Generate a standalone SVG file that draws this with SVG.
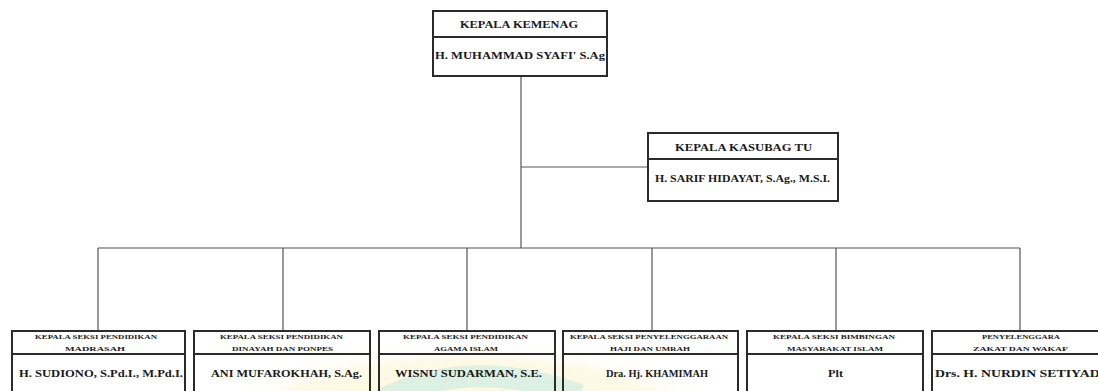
<svg xmlns="http://www.w3.org/2000/svg" width="1098" height="391" viewBox="0 0 1098 391">
<style>
.box{fill:none;stroke:#2b2b2b;stroke-width:2}
.div{stroke:#2b2b2b;stroke-width:2}
.con{fill:none;stroke:#555;stroke-width:1.2}
text{font-family:"Liberation Serif","Times New Roman",serif;font-weight:bold;fill:#1a1a1a;text-anchor:middle}
.t1{font-size:11px}
.t2{font-size:10px}
.st{font-size:6px}
.nm{font-size:11px}
</style>
<defs>
<radialGradient id="wm" cx="0.5" cy="0.5" r="0.5">
<stop offset="0" stop-color="#fff7cf" stop-opacity="0.9"/>
<stop offset="0.7" stop-color="#fdf6d6" stop-opacity="0.6"/>
<stop offset="1" stop-color="#ffffff" stop-opacity="0"/>
</radialGradient>
</defs>
<rect width="1098" height="391" fill="#fff"/>
<g id="watermark">
<ellipse cx="470" cy="410" rx="260" ry="70" fill="url(#wm)"/>
<path d="M 380 400 Q 470 355 580 395" fill="none" stroke="#cfeee4" stroke-width="22" opacity="0.7"/>
</g>
<g id="connectors">
<path class="con" d="M521 76 V248"/>
<path class="con" d="M521 167 H648"/>
<path class="con" d="M98 248 H1020"/>
<path class="con" d="M98 248 V331 M283 248 V331 M467 248 V331 M652 248 V331 M836 248 V331 M1020 248 V331"/>
</g>
<g id="kepala-kemenag">
<rect class="box" x="433" y="11" width="174" height="65"/>
<line class="div" x1="433" y1="37" x2="607" y2="37"/>
<text class="t1" x="519" y="28" textLength="118" lengthAdjust="spacingAndGlyphs">KEPALA KEMENAG</text>
<text class="t1" x="520" y="59" textLength="170" lengthAdjust="spacingAndGlyphs">H. MUHAMMAD SYAFI' S.Ag</text>
</g>
<g id="kepala-kasubag">
<rect class="box" x="648" y="133" width="190" height="68"/>
<line class="div" x1="648" y1="159" x2="838" y2="159"/>
<text class="t2" x="743.5" y="151" textLength="137" lengthAdjust="spacingAndGlyphs">KEPALA KASUBAG TU</text>
<text class="t2" x="742.5" y="182" textLength="175" lengthAdjust="spacingAndGlyphs">H. SARIF HIDAYAT, S.Ag., M.S.I.</text>
</g>
<g id="seksi-madrasah">
<rect class="box" x="12" y="331" width="173" height="80"/>
<line class="div" x1="12" y1="354" x2="185" y2="354"/>
<text class="st" x="96" y="338.5" textLength="122" lengthAdjust="spacingAndGlyphs">KEPALA SEKSI PENDIDIKAN</text>
<text class="st" x="95" y="350.5" textLength="60" lengthAdjust="spacingAndGlyphs">MADRASAH</text>
<text class="nm" x="101" y="377" textLength="164" lengthAdjust="spacingAndGlyphs">H. SUDIONO, S.Pd.I., M.Pd.I.</text>
</g>
<g id="seksi-diniyah">
<rect class="box" x="194" y="331" width="176" height="80"/>
<line class="div" x1="194" y1="354" x2="370" y2="354"/>
<text class="st" x="281.5" y="338.5" textLength="123" lengthAdjust="spacingAndGlyphs">KEPALA SEKSI PENDIDIKAN</text>
<text class="st" x="282.5" y="350.5" textLength="101" lengthAdjust="spacingAndGlyphs">DINAYAH DAN PONPES</text>
<text class="nm" x="286.5" y="377" textLength="151" lengthAdjust="spacingAndGlyphs">ANI MUFAROKHAH, S.Ag.</text>
</g>
<g id="seksi-pai">
<rect class="box" x="379" y="331" width="176" height="80"/>
<line class="div" x1="379" y1="354" x2="555" y2="354"/>
<text class="st" x="465.5" y="338.5" textLength="125" lengthAdjust="spacingAndGlyphs">KEPALA SEKSI PENDIDIKAN</text>
<text class="st" x="466" y="350.5" textLength="64" lengthAdjust="spacingAndGlyphs">AGAMA ISLAM</text>
<text class="nm" x="468.5" y="377" textLength="147" lengthAdjust="spacingAndGlyphs">WISNU SUDARMAN, S.E.</text>
</g>
<g id="seksi-haji">
<rect class="box" x="563" y="331" width="175" height="80"/>
<line class="div" x1="563" y1="354" x2="738" y2="354"/>
<text class="st" x="649" y="338.5" textLength="158" lengthAdjust="spacingAndGlyphs">KEPALA SEKSI PENYELENGGARAAN</text>
<text class="st" x="650" y="350.5" textLength="80" lengthAdjust="spacingAndGlyphs">HAJI DAN UMRAH</text>
<text class="nm" x="657" y="377" textLength="102" lengthAdjust="spacingAndGlyphs">Dra. Hj. KHAMIMAH</text>
</g>
<g id="seksi-bimas">
<rect class="box" x="747" y="331" width="176" height="80"/>
<line class="div" x1="747" y1="354" x2="923" y2="354"/>
<text class="st" x="834" y="338.5" textLength="122" lengthAdjust="spacingAndGlyphs">KEPALA SEKSI BIMBINGAN</text>
<text class="st" x="835" y="350.5" textLength="96" lengthAdjust="spacingAndGlyphs">MASYARAKAT ISLAM</text>
<text class="nm" x="835.5" y="377" textLength="15" lengthAdjust="spacingAndGlyphs">Plt</text>
</g>
<g id="zakat-wakaf">
<rect class="box" x="932" y="331" width="176" height="80"/>
<line class="div" x1="932" y1="354" x2="1108" y2="354"/>
<text class="st" x="1021" y="338.5" textLength="78" lengthAdjust="spacingAndGlyphs">PENYELENGGARA</text>
<text class="st" x="1020.5" y="350.5" textLength="95" lengthAdjust="spacingAndGlyphs">ZAKAT DAN WAKAF</text>
<text class="nm" x="935" y="377" style="text-anchor:start" textLength="170" lengthAdjust="spacingAndGlyphs">Drs. H. NURDIN SETIYADI</text>
</g>
</svg>
